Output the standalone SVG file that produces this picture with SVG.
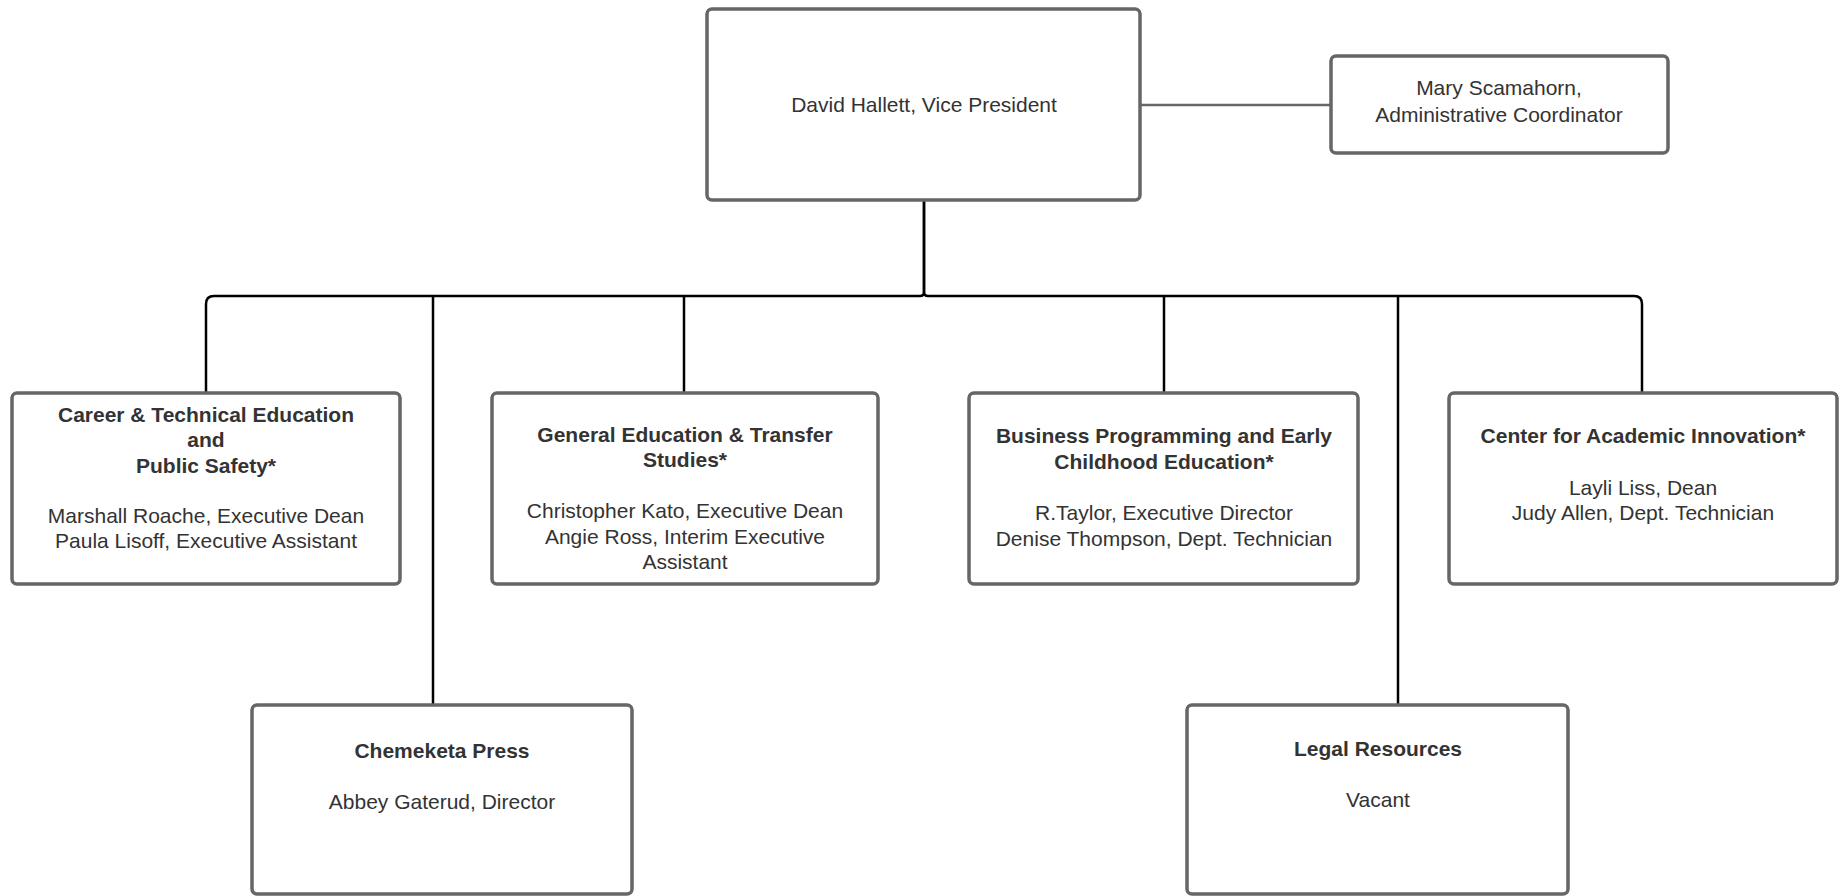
<svg xmlns="http://www.w3.org/2000/svg" width="1845" height="896" viewBox="0 0 1845 896">
<style>
.box{fill:#fff;stroke:#666;stroke-width:3.5}
.t{font-family:"Liberation Sans",Arial,sans-serif;font-size:21px;fill:#333;text-anchor:middle}
.b{font-weight:bold}
.c{fill:none;stroke:#000;stroke-width:2.5}
.g{fill:none;stroke:#666;stroke-width:2.5}
</style>
<rect width="1845" height="896" fill="#fff"/>
<g id="connectors">
<path class="g" d="M1140 105 H1331"/>
<path class="c" d="M924 200 V292 Q924 296 920 296 H214 Q206 296 206 304 V393"/>
<path class="c" d="M924 200 V292 Q924 296 928 296 H1634 Q1642 296 1642 304 V393"/>
<path class="c" d="M433 296 V705"/>
<path class="c" d="M684 296 V393"/>
<path class="c" d="M1164 296 V393"/>
<path class="c" d="M1398 296 V705"/>
</g>
<g id="vp">
<rect class="box" x="707" y="9" width="433" height="191" rx="5"/>
<text class="t" x="924" y="112">David Hallett, Vice President</text>
</g>
<g id="admin">
<rect class="box" x="1331" y="56" width="337" height="97" rx="5"/>
<text class="t" x="1499" y="95">Mary Scamahorn,</text>
<text class="t" x="1499" y="122">Administrative Coordinator</text>
</g>
<g id="cte">
<rect class="box" x="12" y="393" width="388" height="191" rx="5"/>
<text class="t b" x="206" y="422">Career &amp; Technical Education</text>
<text class="t b" x="206" y="447">and</text>
<text class="t b" x="206" y="473">Public Safety*</text>
<text class="t" x="206" y="523">Marshall Roache, Executive Dean</text>
<text class="t" x="206" y="548">Paula Lisoff, Executive Assistant</text>
</g>
<g id="gened">
<rect class="box" x="492" y="393" width="386" height="191" rx="5"/>
<text class="t b" x="685" y="442">General Education &amp; Transfer</text>
<text class="t b" x="685" y="467">Studies*</text>
<text class="t" x="685" y="518">Christopher Kato, Executive Dean</text>
<text class="t" x="685" y="544">Angie Ross, Interim Executive</text>
<text class="t" x="685" y="569">Assistant</text>
</g>
<g id="business">
<rect class="box" x="969" y="393" width="389" height="191" rx="5"/>
<text class="t b" x="1164" y="443">Business Programming and Early</text>
<text class="t b" x="1164" y="469">Childhood Education*</text>
<text class="t" x="1164" y="520">R.Taylor, Executive Director</text>
<text class="t" x="1164" y="546">Denise Thompson, Dept. Technician</text>
</g>
<g id="cai">
<rect class="box" x="1449" y="393" width="388" height="191" rx="5"/>
<text class="t b" x="1643" y="443">Center for Academic Innovation*</text>
<text class="t" x="1643" y="495">Layli Liss, Dean</text>
<text class="t" x="1643" y="520">Judy Allen, Dept. Technician</text>
</g>
<g id="press">
<rect class="box" x="252" y="705" width="380" height="189" rx="5"/>
<text class="t b" x="442" y="758">Chemeketa Press</text>
<text class="t" x="442" y="809">Abbey Gaterud, Director</text>
</g>
<g id="legal">
<rect class="box" x="1187" y="705" width="381" height="189" rx="5"/>
<text class="t b" x="1378" y="756">Legal Resources</text>
<text class="t" x="1378" y="807">Vacant</text>
</g>
</svg>
